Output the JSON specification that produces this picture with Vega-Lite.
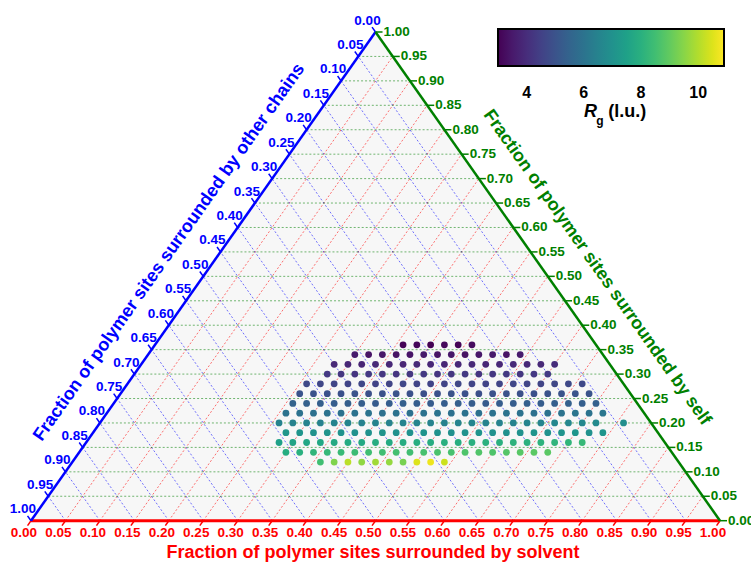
{
  "$schema": "https://vega.github.io/schema/vega-lite/v6.json",
  "width": 751,
  "height": 565,
  "autosize": {"type": "none"},
  "padding": 0,
  "background": "white",
  "config": {"view": {"stroke": null}, "font": "Liberation Sans", "text": {"font": "Liberation Sans"}},
  "datasets": {
    "grid": [{"v":0.05},{"v":0.10},{"v":0.15},{"v":0.20},{"v":0.25},{"v":0.30},{"v":0.35},{"v":0.40},{"v":0.45},{"v":0.50},{"v":0.55},{"v":0.60},{"v":0.65},{"v":0.70},{"v":0.75},{"v":0.80},{"v":0.85},{"v":0.90},{"v":0.95}],
    "ticks": [{"v":0.00,"lab":"0.00"},{"v":0.05,"lab":"0.05"},{"v":0.10,"lab":"0.10"},{"v":0.15,"lab":"0.15"},{"v":0.20,"lab":"0.20"},{"v":0.25,"lab":"0.25"},{"v":0.30,"lab":"0.30"},{"v":0.35,"lab":"0.35"},{"v":0.40,"lab":"0.40"},{"v":0.45,"lab":"0.45"},{"v":0.50,"lab":"0.50"},{"v":0.55,"lab":"0.55"},{"v":0.60,"lab":"0.60"},{"v":0.65,"lab":"0.65"},{"v":0.70,"lab":"0.70"},{"v":0.75,"lab":"0.75"},{"v":0.80,"lab":"0.80"},{"v":0.85,"lab":"0.85"},{"v":0.90,"lab":"0.90"},{"v":0.95,"lab":"0.95"},{"v":1.00,"lab":"1.00"}],
    "points": [
      {"s":0.36,"f":0.36,"rg":3.05},{"s":0.38,"f":0.36,"rg":3.1},{"s":0.40,"f":0.36,"rg":3.0},{"s":0.42,"f":0.36,"rg":3.15},{"s":0.44,"f":0.36,"rg":3.05},{"s":0.46,"f":0.36,"rg":3.2},
      {"s":0.30,"f":0.34,"rg":3.5},{"s":0.32,"f":0.34,"rg":3.4},{"s":0.34,"f":0.34,"rg":3.45},{"s":0.36,"f":0.34,"rg":3.35},{"s":0.38,"f":0.34,"rg":3.4},{"s":0.40,"f":0.34,"rg":3.5},{"s":0.42,"f":0.34,"rg":3.4},{"s":0.44,"f":0.34,"rg":3.45},{"s":0.46,"f":0.34,"rg":3.35},{"s":0.48,"f":0.34,"rg":3.45},{"s":0.50,"f":0.34,"rg":3.5},{"s":0.52,"f":0.34,"rg":3.4},{"s":0.54,"f":0.34,"rg":3.55},
      {"s":0.28,"f":0.32,"rg":3.9},{"s":0.30,"f":0.32,"rg":3.85},{"s":0.32,"f":0.32,"rg":3.8},{"s":0.34,"f":0.32,"rg":3.9},{"s":0.36,"f":0.32,"rg":3.85},{"s":0.38,"f":0.32,"rg":3.8},{"s":0.40,"f":0.32,"rg":3.9},{"s":0.42,"f":0.32,"rg":3.85},{"s":0.44,"f":0.32,"rg":3.8},{"s":0.46,"f":0.32,"rg":3.85},{"s":0.48,"f":0.32,"rg":3.9},{"s":0.50,"f":0.32,"rg":3.8},{"s":0.52,"f":0.32,"rg":3.85},{"s":0.54,"f":0.32,"rg":3.9},{"s":0.56,"f":0.32,"rg":3.85},{"s":0.58,"f":0.32,"rg":3.9},{"s":0.60,"f":0.32,"rg":3.95},
      {"s":0.28,"f":0.30,"rg":4.3},{"s":0.30,"f":0.30,"rg":4.25},{"s":0.32,"f":0.30,"rg":4.2},{"s":0.34,"f":0.30,"rg":4.3},{"s":0.36,"f":0.30,"rg":4.25},{"s":0.38,"f":0.30,"rg":4.2},{"s":0.40,"f":0.30,"rg":4.25},{"s":0.42,"f":0.30,"rg":4.3},{"s":0.44,"f":0.30,"rg":4.2},{"s":0.46,"f":0.30,"rg":4.25},{"s":0.48,"f":0.30,"rg":4.3},{"s":0.50,"f":0.30,"rg":4.2},{"s":0.52,"f":0.30,"rg":4.25},{"s":0.54,"f":0.30,"rg":4.3},{"s":0.56,"f":0.30,"rg":4.25},{"s":0.58,"f":0.30,"rg":4.3},{"s":0.60,"f":0.30,"rg":4.35},
      {"s":0.26,"f":0.28,"rg":4.7},{"s":0.28,"f":0.28,"rg":4.65},{"s":0.30,"f":0.28,"rg":4.6},{"s":0.32,"f":0.28,"rg":4.6},{"s":0.34,"f":0.28,"rg":4.65},{"s":0.36,"f":0.28,"rg":4.55},{"s":0.38,"f":0.28,"rg":4.6},{"s":0.40,"f":0.28,"rg":4.65},{"s":0.42,"f":0.28,"rg":4.6},{"s":0.44,"f":0.28,"rg":4.55},{"s":0.46,"f":0.28,"rg":4.6},{"s":0.48,"f":0.28,"rg":4.65},{"s":0.50,"f":0.28,"rg":4.6},{"s":0.52,"f":0.28,"rg":4.55},{"s":0.54,"f":0.28,"rg":4.6},{"s":0.56,"f":0.28,"rg":4.65},{"s":0.58,"f":0.28,"rg":4.6},{"s":0.60,"f":0.28,"rg":4.6},{"s":0.62,"f":0.28,"rg":4.65},{"s":0.64,"f":0.28,"rg":4.7},{"s":0.66,"f":0.28,"rg":4.7},
      {"s":0.26,"f":0.26,"rg":5.05},{"s":0.28,"f":0.26,"rg":5.0},{"s":0.30,"f":0.26,"rg":4.95},{"s":0.32,"f":0.26,"rg":4.95},{"s":0.34,"f":0.26,"rg":5.0},{"s":0.36,"f":0.26,"rg":4.9},{"s":0.38,"f":0.26,"rg":4.95},{"s":0.40,"f":0.26,"rg":5.0},{"s":0.42,"f":0.26,"rg":4.95},{"s":0.44,"f":0.26,"rg":4.9},{"s":0.46,"f":0.26,"rg":4.95},{"s":0.48,"f":0.26,"rg":5.0},{"s":0.50,"f":0.26,"rg":4.95},{"s":0.52,"f":0.26,"rg":4.9},{"s":0.54,"f":0.26,"rg":4.95},{"s":0.56,"f":0.26,"rg":5.0},{"s":0.58,"f":0.26,"rg":4.95},{"s":0.60,"f":0.26,"rg":4.95},{"s":0.62,"f":0.26,"rg":5.0},{"s":0.64,"f":0.26,"rg":5.0},{"s":0.66,"f":0.26,"rg":5.05},{"s":0.68,"f":0.26,"rg":5.0},
      {"s":0.26,"f":0.24,"rg":5.45},{"s":0.28,"f":0.24,"rg":5.4},{"s":0.30,"f":0.24,"rg":5.35},{"s":0.32,"f":0.24,"rg":5.3},{"s":0.34,"f":0.24,"rg":5.35},{"s":0.36,"f":0.24,"rg":5.3},{"s":0.38,"f":0.24,"rg":5.25},{"s":0.40,"f":0.24,"rg":5.3},{"s":0.42,"f":0.24,"rg":5.35},{"s":0.44,"f":0.24,"rg":5.3},{"s":0.46,"f":0.24,"rg":5.25},{"s":0.48,"f":0.24,"rg":5.3},{"s":0.50,"f":0.24,"rg":5.35},{"s":0.52,"f":0.24,"rg":5.3},{"s":0.54,"f":0.24,"rg":5.25},{"s":0.56,"f":0.24,"rg":5.3},{"s":0.58,"f":0.24,"rg":5.3},{"s":0.60,"f":0.24,"rg":5.35},{"s":0.62,"f":0.24,"rg":5.3},{"s":0.64,"f":0.24,"rg":5.35},{"s":0.66,"f":0.24,"rg":5.4},{"s":0.68,"f":0.24,"rg":5.35},{"s":0.70,"f":0.24,"rg":5.4},
      {"s":0.26,"f":0.22,"rg":6.0},{"s":0.28,"f":0.22,"rg":5.95},{"s":0.30,"f":0.22,"rg":5.9},{"s":0.32,"f":0.22,"rg":5.95},{"s":0.34,"f":0.22,"rg":5.9},{"s":0.36,"f":0.22,"rg":5.95},{"s":0.38,"f":0.22,"rg":6.0},{"s":0.40,"f":0.22,"rg":5.9},{"s":0.42,"f":0.22,"rg":5.95},{"s":0.44,"f":0.22,"rg":5.9},{"s":0.46,"f":0.22,"rg":5.95},{"s":0.48,"f":0.22,"rg":6.0},{"s":0.50,"f":0.22,"rg":5.9},{"s":0.52,"f":0.22,"rg":5.95},{"s":0.54,"f":0.22,"rg":5.9},{"s":0.56,"f":0.22,"rg":5.95},{"s":0.58,"f":0.22,"rg":6.0},{"s":0.60,"f":0.22,"rg":5.95},{"s":0.62,"f":0.22,"rg":5.9},{"s":0.64,"f":0.22,"rg":5.95},{"s":0.66,"f":0.22,"rg":6.0},{"s":0.68,"f":0.22,"rg":6.05},{"s":0.70,"f":0.22,"rg":6.0},{"s":0.72,"f":0.22,"rg":6.1},
      {"s":0.26,"f":0.20,"rg":6.5},{"s":0.28,"f":0.20,"rg":6.45},{"s":0.30,"f":0.20,"rg":6.5},{"s":0.32,"f":0.20,"rg":6.45},{"s":0.34,"f":0.20,"rg":6.5},{"s":0.36,"f":0.20,"rg":6.55},{"s":0.38,"f":0.20,"rg":6.45},{"s":0.40,"f":0.20,"rg":6.5},{"s":0.42,"f":0.20,"rg":6.45},{"s":0.44,"f":0.20,"rg":6.5},{"s":0.46,"f":0.20,"rg":6.55},{"s":0.48,"f":0.20,"rg":6.5},{"s":0.50,"f":0.20,"rg":6.45},{"s":0.52,"f":0.20,"rg":6.5},{"s":0.54,"f":0.20,"rg":6.55},{"s":0.56,"f":0.20,"rg":6.5},{"s":0.58,"f":0.20,"rg":6.45},{"s":0.60,"f":0.20,"rg":6.5},{"s":0.62,"f":0.20,"rg":6.55},{"s":0.64,"f":0.20,"rg":6.5},{"s":0.66,"f":0.20,"rg":6.6},{"s":0.68,"f":0.20,"rg":6.65},{"s":0.70,"f":0.20,"rg":6.7},{"s":0.72,"f":0.20,"rg":6.75},{"s":0.76,"f":0.20,"rg":6.9},
      {"s":0.28,"f":0.18,"rg":7.15},{"s":0.30,"f":0.18,"rg":7.1},{"s":0.32,"f":0.18,"rg":7.0},{"s":0.34,"f":0.18,"rg":7.05},{"s":0.36,"f":0.18,"rg":7.0},{"s":0.38,"f":0.18,"rg":6.95},{"s":0.40,"f":0.18,"rg":7.0},{"s":0.42,"f":0.18,"rg":7.05},{"s":0.44,"f":0.18,"rg":6.95},{"s":0.46,"f":0.18,"rg":7.0},{"s":0.48,"f":0.18,"rg":7.05},{"s":0.50,"f":0.18,"rg":7.0},{"s":0.52,"f":0.18,"rg":6.95},{"s":0.54,"f":0.18,"rg":7.0},{"s":0.56,"f":0.18,"rg":7.05},{"s":0.58,"f":0.18,"rg":7.0},{"s":0.60,"f":0.18,"rg":6.95},{"s":0.62,"f":0.18,"rg":7.0},{"s":0.64,"f":0.18,"rg":7.05},{"s":0.66,"f":0.18,"rg":7.0},{"s":0.68,"f":0.18,"rg":7.05},{"s":0.70,"f":0.18,"rg":7.1},{"s":0.72,"f":0.18,"rg":7.0},{"s":0.74,"f":0.18,"rg":7.1},
      {"s":0.28,"f":0.16,"rg":7.5},{"s":0.30,"f":0.16,"rg":7.6},{"s":0.32,"f":0.16,"rg":7.7},{"s":0.34,"f":0.16,"rg":7.75},{"s":0.36,"f":0.16,"rg":7.8},{"s":0.38,"f":0.16,"rg":7.85},{"s":0.40,"f":0.16,"rg":7.8},{"s":0.42,"f":0.16,"rg":7.9},{"s":0.44,"f":0.16,"rg":7.85},{"s":0.46,"f":0.16,"rg":7.9},{"s":0.48,"f":0.16,"rg":7.95},{"s":0.50,"f":0.16,"rg":7.9},{"s":0.52,"f":0.16,"rg":8.0},{"s":0.54,"f":0.16,"rg":7.95},{"s":0.56,"f":0.16,"rg":8.0},{"s":0.58,"f":0.16,"rg":8.05},{"s":0.60,"f":0.16,"rg":8.0},{"s":0.62,"f":0.16,"rg":8.1},{"s":0.64,"f":0.16,"rg":8.05},{"s":0.66,"f":0.16,"rg":8.1},{"s":0.68,"f":0.16,"rg":8.15},{"s":0.70,"f":0.16,"rg":8.2},{"s":0.72,"f":0.16,"rg":8.3},
      {"s":0.30,"f":0.14,"rg":7.9},{"s":0.32,"f":0.14,"rg":8.0},{"s":0.34,"f":0.14,"rg":8.2},{"s":0.36,"f":0.14,"rg":8.3},{"s":0.38,"f":0.14,"rg":8.35},{"s":0.40,"f":0.14,"rg":8.4},{"s":0.42,"f":0.14,"rg":8.45},{"s":0.44,"f":0.14,"rg":8.5},{"s":0.46,"f":0.14,"rg":8.55},{"s":0.48,"f":0.14,"rg":8.5},{"s":0.50,"f":0.14,"rg":8.6},{"s":0.52,"f":0.14,"rg":8.65},{"s":0.54,"f":0.14,"rg":8.6},{"s":0.56,"f":0.14,"rg":8.7},{"s":0.58,"f":0.14,"rg":8.75},{"s":0.60,"f":0.14,"rg":8.7},{"s":0.62,"f":0.14,"rg":8.8},{"s":0.64,"f":0.14,"rg":8.85},{"s":0.66,"f":0.14,"rg":8.9},{"s":0.68,"f":0.14,"rg":8.9},
      {"s":0.36,"f":0.12,"rg":8.5},{"s":0.38,"f":0.12,"rg":9.4},{"s":0.40,"f":0.12,"rg":10.1},{"s":0.42,"f":0.12,"rg":9.6},{"s":0.44,"f":0.12,"rg":9.8},{"s":0.46,"f":0.12,"rg":9.65},{"s":0.48,"f":0.12,"rg":9.3},{"s":0.50,"f":0.12,"rg":10.5},{"s":0.52,"f":0.12,"rg":10.7},{"s":0.54,"f":0.12,"rg":10.3}
    ]
  },
  "layer": [
    {
      "data": {"values": [{"x":0,"y":0},{"x":0.5,"y":1},{"x":1,"y":0}]},
      "mark": {"type": "area", "color": "#f7f7f7"},
      "encoding": {
        "x": {"field": "x", "type": "quantitative", "scale": {"domain": [-0.04499, 1.04499], "nice": false, "zero": false}, "axis": null},
        "y": {"field": "y", "type": "quantitative", "scale": {"domain": [-0.09065, 1.06548], "nice": false, "zero": false}, "axis": null},
        "y2": {"datum": 0}
      }
    },
    {
      "data": {"name": "grid"},
      "transform": [{"calculate": "datum.v", "as": "xa"}, {"calculate": "0", "as": "ya"}, {"calculate": "(1+datum.v)/2", "as": "xb"}, {"calculate": "1-datum.v", "as": "yb"}],
      "mark": {"type": "rule", "color": "#ff0000", "strokeWidth": 1, "strokeDash": [2, 2], "opacity": 0.55},
      "encoding": {
        "x": {"field": "xa", "type": "quantitative"}, "y": {"field": "ya", "type": "quantitative"},
        "x2": {"field": "xb"}, "y2": {"field": "yb"}
      }
    },
    {
      "data": {"name": "grid"},
      "transform": [{"calculate": "1-datum.v", "as": "xa"}, {"calculate": "0", "as": "ya"}, {"calculate": "(1-datum.v)/2", "as": "xb"}, {"calculate": "1-datum.v", "as": "yb"}],
      "mark": {"type": "rule", "color": "#0000ff", "strokeWidth": 1, "strokeDash": [2, 2], "opacity": 0.55},
      "encoding": {
        "x": {"field": "xa", "type": "quantitative"}, "y": {"field": "ya", "type": "quantitative"},
        "x2": {"field": "xb"}, "y2": {"field": "yb"}
      }
    },
    {
      "data": {"name": "grid"},
      "transform": [{"calculate": "datum.v/2", "as": "xa"}, {"calculate": "datum.v", "as": "ya"}, {"calculate": "1-datum.v/2", "as": "xb"}],
      "mark": {"type": "rule", "color": "#008000", "strokeWidth": 1, "strokeDash": [2, 2], "opacity": 0.55},
      "encoding": {
        "x": {"field": "xa", "type": "quantitative"}, "y": {"field": "ya", "type": "quantitative"},
        "x2": {"field": "xb"}, "y2": {"field": "ya"}
      }
    },
    {
      "data": {"name": "ticks"},
      "transform": [{"calculate": "datum.v", "as": "xa"}, {"calculate": "0", "as": "ya"}, {"calculate": "datum.v-0.005", "as": "xb"}, {"calculate": "-0.01", "as": "yb"}],
      "mark": {"type": "rule", "color": "#ff0000", "strokeWidth": 1.5},
      "encoding": {
        "x": {"field": "xa", "type": "quantitative"}, "y": {"field": "ya", "type": "quantitative"},
        "x2": {"field": "xb"}, "y2": {"field": "yb"}
      }
    },
    {
      "data": {"name": "ticks"},
      "transform": [{"calculate": "(1-datum.v)/2", "as": "xa"}, {"calculate": "1-datum.v", "as": "ya"}, {"calculate": "(1-datum.v)/2-0.005", "as": "xb"}, {"calculate": "1-datum.v+0.01", "as": "yb"}],
      "mark": {"type": "rule", "color": "#0000ff", "strokeWidth": 1.5},
      "encoding": {
        "x": {"field": "xa", "type": "quantitative"}, "y": {"field": "ya", "type": "quantitative"},
        "x2": {"field": "xb"}, "y2": {"field": "yb"}
      }
    },
    {
      "data": {"name": "ticks"},
      "transform": [{"calculate": "1-datum.v/2", "as": "xa"}, {"calculate": "datum.v", "as": "ya"}, {"calculate": "1-datum.v/2+0.0102", "as": "xb"}],
      "mark": {"type": "rule", "color": "#008000", "strokeWidth": 1.5},
      "encoding": {
        "x": {"field": "xa", "type": "quantitative"}, "y": {"field": "ya", "type": "quantitative"},
        "x2": {"field": "xb"}, "y2": {"field": "ya"}
      }
    },
    {
      "data": {"values": [{"edge": "solvent"}]},
      "mark": {"type": "rule", "color": "#ff0000", "strokeWidth": 3},
      "encoding": {"x": {"datum": 0, "type": "quantitative"}, "y": {"datum": 0, "type": "quantitative"}, "x2": {"datum": 1}, "y2": {"datum": 0}}
    },
    {
      "data": {"values": [{"edge": "other"}]},
      "mark": {"type": "rule", "color": "#0000ff", "strokeWidth": 2.5},
      "encoding": {"x": {"datum": 0, "type": "quantitative"}, "y": {"datum": 0, "type": "quantitative"}, "x2": {"datum": 0.5}, "y2": {"datum": 1}}
    },
    {
      "data": {"values": [{"edge": "self"}]},
      "mark": {"type": "rule", "color": "#008000", "strokeWidth": 2.5},
      "encoding": {"x": {"datum": 1, "type": "quantitative"}, "y": {"datum": 0, "type": "quantitative"}, "x2": {"datum": 0.5}, "y2": {"datum": 1}}
    },
    {
      "data": {"name": "ticks"},
      "transform": [{"calculate": "0", "as": "ya"}],
      "mark": {"type": "text", "color": "#ff0000", "fontSize": 13.5, "fontWeight": "bold", "align": "center", "baseline": "middle", "dx": -7, "dy": 12},
      "encoding": {"x": {"field": "v", "type": "quantitative"}, "y": {"field": "ya", "type": "quantitative"}, "text": {"field": "lab"}}
    },
    {
      "data": {"name": "ticks"},
      "transform": [{"calculate": "(1-datum.v)/2", "as": "xa"}, {"calculate": "1-datum.v", "as": "ya"}],
      "mark": {"type": "text", "color": "#0000ff", "fontSize": 13.5, "fontWeight": "bold", "align": "center", "baseline": "middle", "dx": -8, "dy": -11.5},
      "encoding": {"x": {"field": "xa", "type": "quantitative"}, "y": {"field": "ya", "type": "quantitative"}, "text": {"field": "lab"}}
    },
    {
      "data": {"name": "ticks"},
      "transform": [{"calculate": "1-datum.v/2", "as": "xa"}],
      "mark": {"type": "text", "color": "#008000", "fontSize": 13.5, "fontWeight": "bold", "align": "left", "baseline": "middle", "dx": 8},
      "encoding": {"x": {"field": "xa", "type": "quantitative"}, "y": {"field": "v", "type": "quantitative"}, "text": {"field": "lab"}}
    },
    {
      "data": {"name": "points"},
      "transform": [{"calculate": "datum.s + datum.f/2", "as": "px"}],
      "mark": {"type": "circle", "size": 46, "opacity": 1},
      "encoding": {
        "x": {"field": "px", "type": "quantitative"},
        "y": {"field": "f", "type": "quantitative"},
        "color": {
          "field": "rg", "type": "quantitative",
          "scale": {"scheme": "viridis", "domain": [3, 10.9], "nice": false, "zero": false},
          "legend": {"orient": "none", "legendX": 498, "legendY": 29, "direction": "horizontal", "gradientLength": 226, "gradientThickness": 37, "gradientStrokeColor": "black", "gradientStrokeWidth": 2, "values": [4, 6, 8, 10], "labelFontSize": 16, "labelFontWeight": "bold", "labelColor": "black", "labelOffset": 19, "labelFont": "Liberation Sans", "title": null, "padding": 0}
        }
      }
    },
    {
      "data": {"values": [{"t": "Fraction of polymer sites surrounded by solvent"}]},
      "mark": {"type": "text", "color": "#ff0000", "fontSize": 18, "fontWeight": "bold", "align": "center", "baseline": "middle"},
      "encoding": {"x": {"datum": 0.4964, "type": "quantitative"}, "y": {"datum": -0.0671, "type": "quantitative"}, "text": {"field": "t"}}
    },
    {
      "data": {"values": [{"t": "Fraction of polymer sites surrounded by other chains"}]},
      "mark": {"type": "text", "color": "#0000ff", "fontSize": 18, "fontWeight": "bold", "align": "center", "baseline": "middle", "angle": -54.8},
      "encoding": {"x": {"datum": 0.2007, "type": "quantitative"}, "y": {"datum": 0.549, "type": "quantitative"}, "text": {"field": "t"}}
    },
    {
      "data": {"values": [{"t": "Fraction of polymer sites surrounded by self"}]},
      "mark": {"type": "text", "color": "#008000", "fontSize": 18, "fontWeight": "bold", "align": "center", "baseline": "middle", "angle": 54.8},
      "encoding": {"x": {"datum": 0.8215, "type": "quantitative"}, "y": {"datum": 0.518, "type": "quantitative"}, "text": {"field": "t"}}
    },
    {
      "data": {"values": [{"t": "R"}]},
      "mark": {"type": "text", "color": "black", "fontSize": 18, "fontWeight": "bold", "fontStyle": "italic", "align": "center", "baseline": "middle"},
      "encoding": {"x": {"datum": 0.812, "type": "quantitative"}, "y": {"datum": 0.836, "type": "quantitative"}, "text": {"field": "t"}}
    },
    {
      "data": {"values": [{"t": "g"}]},
      "mark": {"type": "text", "color": "black", "fontSize": 12, "fontWeight": "bold", "align": "center", "baseline": "middle"},
      "encoding": {"x": {"datum": 0.8256, "type": "quantitative"}, "y": {"datum": 0.818, "type": "quantitative"}, "text": {"field": "t"}}
    },
    {
      "data": {"values": [{"t": "(l.u.)"}]},
      "mark": {"type": "text", "color": "black", "fontSize": 18, "fontWeight": "bold", "align": "center", "baseline": "middle"},
      "encoding": {"x": {"datum": 0.8655, "type": "quantitative"}, "y": {"datum": 0.836, "type": "quantitative"}, "text": {"field": "t"}}
    }
  ]
}
